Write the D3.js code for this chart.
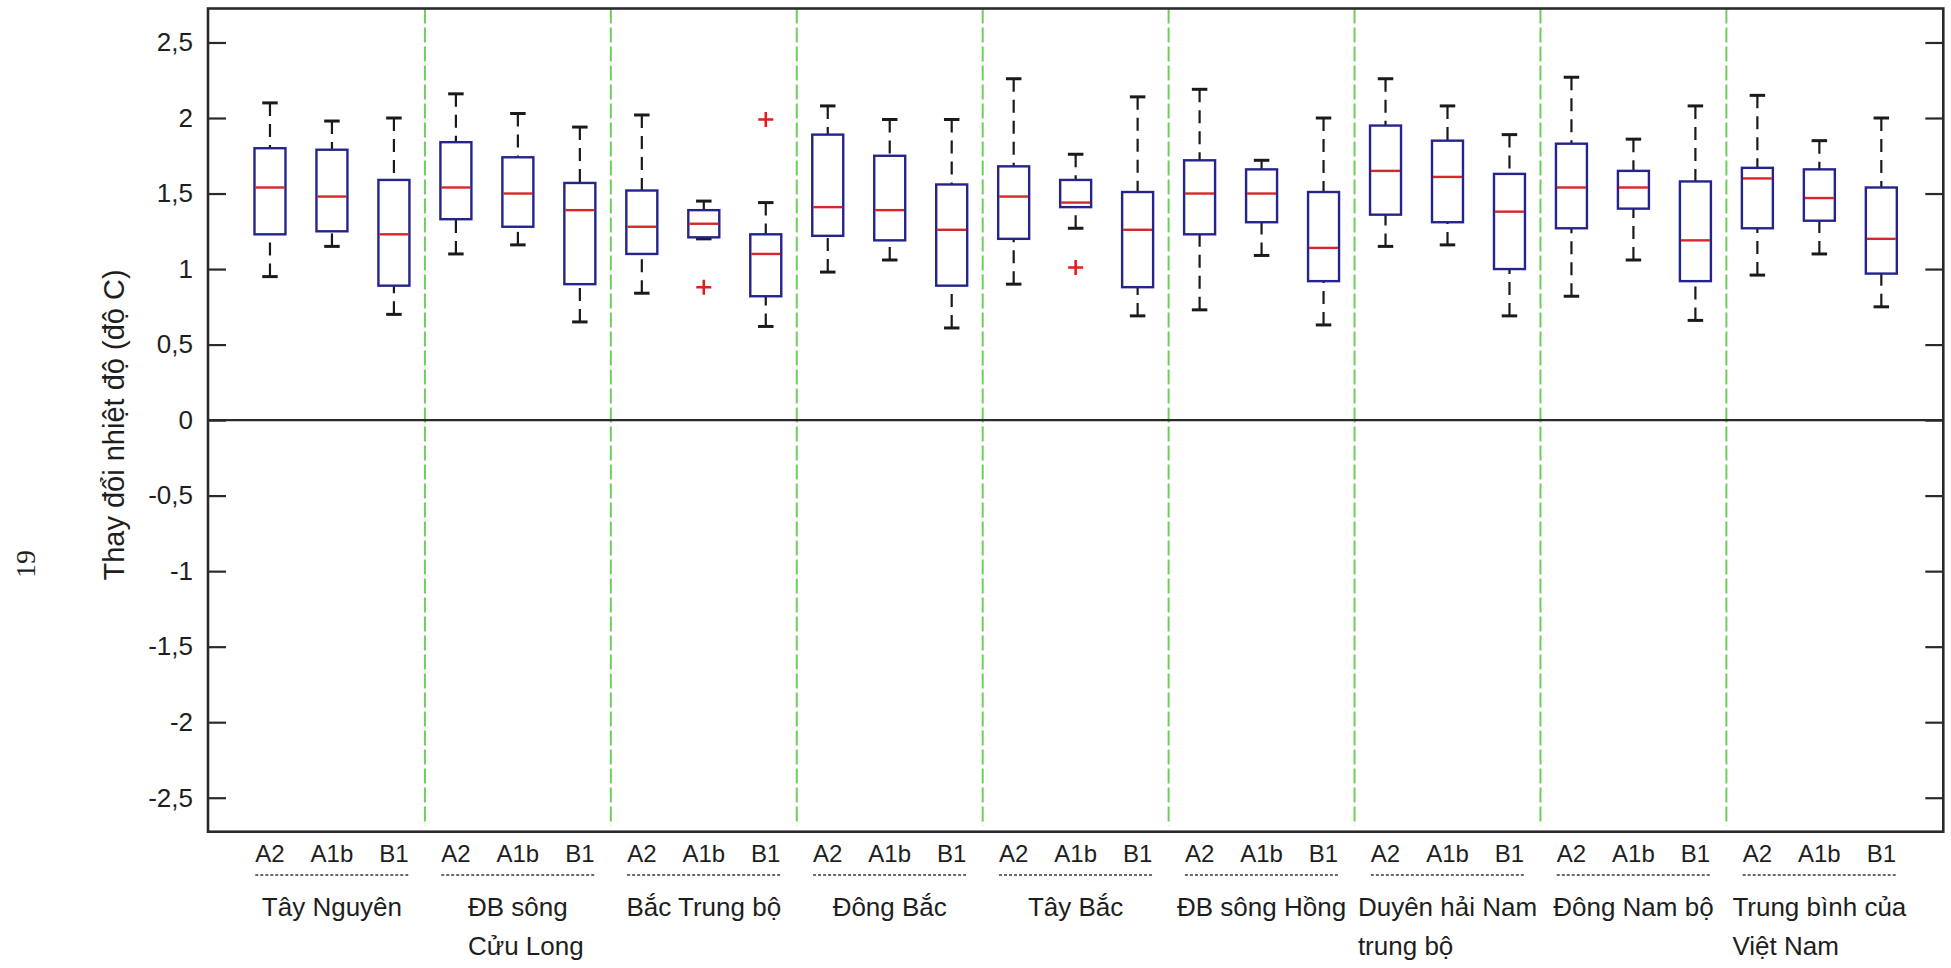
<!DOCTYPE html>
<html>
<head>
<meta charset="utf-8">
<script src="https://cdn.jsdelivr.net/npm/d3@7"></script>
<style>
  html, body { margin: 0; padding: 0; background: #ffffff; }
  svg { display: block; }
  text { font-family: "Liberation Sans", Arial, sans-serif; fill: #1e1e1e; }
</style>
</head>
<body>
<svg id="chart" width="1951" height="968"></svg>
<script>
// Regions (group labels, possibly wrapped onto two lines)
const regionLines = [
  ["Tây Nguyên"],
  ["ĐB sông", "Cửu Long"],
  ["Bắc Trung bộ"],
  ["Đông Bắc"],
  ["Tây Bắc"],
  ["ĐB sông Hồng"],
  ["Duyên hải Nam", "trung bộ"],
  ["Đông Nam bộ"],
  ["Trung bình của", "Việt Nam"]
];
// Emission scenarios inside each region
const scenarios = ["A2", "A1b", "B1"];

// Box statistics, region by region, scenario order A2, A1b, B1 (°C)
const upperWhisker = [
  2.10, 1.98, 2.00,
  2.16, 2.03, 1.94,
  2.02, 1.45, 1.44,
  2.08, 1.99, 1.99,
  2.26, 1.76, 2.14,
  2.19, 1.72, 2.00,
  2.26, 2.08, 1.89,
  2.27, 1.86, 2.08,
  2.15, 1.85, 2.00
];
const upperQuartile = [
  1.80, 1.79, 1.59,
  1.84, 1.74, 1.57,
  1.52, 1.39, 1.23,
  1.89, 1.75, 1.56,
  1.68, 1.59, 1.51,
  1.72, 1.66, 1.51,
  1.95, 1.85, 1.63,
  1.83, 1.65, 1.58,
  1.67, 1.66, 1.54
];
const medians = [
  1.54, 1.48, 1.23,
  1.54, 1.50, 1.39,
  1.28, 1.30, 1.10,
  1.41, 1.39, 1.26,
  1.48, 1.44, 1.26,
  1.50, 1.50, 1.14,
  1.65, 1.61, 1.38,
  1.54, 1.54, 1.19,
  1.60, 1.47, 1.20
];
const lowerQuartile = [
  1.23, 1.25, 0.89,
  1.33, 1.28, 0.90,
  1.10, 1.21, 0.82,
  1.22, 1.19, 0.89,
  1.20, 1.41, 0.88,
  1.23, 1.31, 0.92,
  1.36, 1.31, 1.00,
  1.27, 1.40, 0.92,
  1.27, 1.32, 0.97
];
const lowerWhisker = [
  0.95, 1.15, 0.70,
  1.10, 1.16, 0.65,
  0.84, 1.20, 0.62,
  0.98, 1.06, 0.61,
  0.90, 1.27, 0.69,
  0.73, 1.09, 0.63,
  1.15, 1.16, 0.69,
  0.82, 1.06, 0.66,
  0.96, 1.10, 0.75
];
// Outliers: box index (0-based) and value
const outlierBox = [7, 8, 13];
const outlierValue = [0.88, 1.99, 1.01];

const yTickValues = [-2.5, -2, -1.5, -1, -0.5, 0, 0.5, 1, 1.5, 2, 2.5];
const yTitle = "Thay đổi nhiệt độ (độ C)";
const pageNumber = "19";

// ---------------------------------------------------------------
const svg = d3.select("#chart");
const plot = { left: 208, right: 1943.3, top: 8.5, bottom: 831.7 };

const nBoxes = medians.length;
const x = d3.scaleLinear().domain([0, nBoxes + 1]).range([plot.left, plot.right]);
const y = d3.scaleLinear().domain([-2.725, 2.725]).range([plot.bottom, plot.top]);

const boxHalf = 0.25;   // half box width, x units
const capHalf = 0.125;  // half whisker cap width, x units

const boxes = d3.range(nBoxes).map(i => ({
  pos: i + 1,
  hi: upperWhisker[i], q3: upperQuartile[i], med: medians[i],
  q1: lowerQuartile[i], lo: lowerWhisker[i]
}));

const fmt = d => String(d).replace(".", ",");

// Group separators
const sepG = svg.append("g");
d3.range(1, regionLines.length).forEach(g => {
  sepG.append("line")
    .attr("x1", x(3 * g + 0.5)).attr("x2", x(3 * g + 0.5))
    .attr("y1", plot.top).attr("y2", plot.bottom - 6)
    .attr("stroke", "#6ccf5a").attr("stroke-width", 2)
    .attr("stroke-dasharray", "15,4");
});

// Zero reference line
svg.append("line")
  .attr("x1", plot.left).attr("x2", plot.right)
  .attr("y1", y(0)).attr("y2", y(0))
  .attr("stroke", "#2a2a2a").attr("stroke-width", 2.2);

// Box plots
const bg = svg.append("g");
boxes.forEach(b => {
  const cx = x(b.pos);
  // dashed whiskers, drawn from the cap toward the box
  bg.append("line").attr("x1", cx).attr("x2", cx)
    .attr("y1", y(b.hi)).attr("y2", y(b.q3))
    .attr("stroke", "#1a1a1a").attr("stroke-width", 2.2)
    .attr("stroke-dasharray", "13,8");
  bg.append("line").attr("x1", cx).attr("x2", cx)
    .attr("y1", y(b.lo)).attr("y2", y(b.q1))
    .attr("stroke", "#1a1a1a").attr("stroke-width", 2.2)
    .attr("stroke-dasharray", "13,8");
  // caps
  [b.hi, b.lo].forEach(v => {
    bg.append("line")
      .attr("x1", x(b.pos - capHalf)).attr("x2", x(b.pos + capHalf))
      .attr("y1", y(v)).attr("y2", y(v))
      .attr("stroke", "#1a1a1a").attr("stroke-width", 3);
  });
  // box
  bg.append("rect")
    .attr("x", x(b.pos - boxHalf)).attr("width", x(b.pos + boxHalf) - x(b.pos - boxHalf))
    .attr("y", y(b.q3)).attr("height", y(b.q1) - y(b.q3))
    .attr("fill", "none").attr("stroke", "#24248c").attr("stroke-width", 2.4);
  // median
  bg.append("line")
    .attr("x1", x(b.pos - boxHalf) + 1).attr("x2", x(b.pos + boxHalf) - 1)
    .attr("y1", y(b.med)).attr("y2", y(b.med))
    .attr("stroke", "#d62828").attr("stroke-width", 2.4);
});

// Outliers drawn as red plus signs
outlierBox.forEach((bi, k) => {
  const cx = x(bi + 1), cy = y(outlierValue[k]), r = 7.5;
  bg.append("path")
    .attr("d", `M${cx - r},${cy}H${cx + r}M${cx},${cy - r}V${cy + r}`)
    .attr("stroke", "#e01e1e").attr("stroke-width", 2.6).attr("fill", "none");
});

// Left axis with inward ticks
const yAxisL = svg.append("g")
  .attr("transform", `translate(${plot.left},0)`)
  .call(d3.axisLeft(y).tickValues(yTickValues).tickFormat(fmt).tickSize(-18).tickPadding(15));
yAxisL.select(".domain").remove();
yAxisL.selectAll(".tick line").attr("stroke", "#2a2a2a").attr("stroke-width", 2.2);
yAxisL.selectAll(".tick text")
  .attr("font-size", 26).attr("font-family", "Liberation Sans, Arial, sans-serif")
  .attr("fill", "#1e1e1e");

// Right axis: ticks only
const yAxisR = svg.append("g")
  .attr("transform", `translate(${plot.right},0)`)
  .call(d3.axisRight(y).tickValues(yTickValues).tickFormat("").tickSize(-18));
yAxisR.select(".domain").remove();
yAxisR.selectAll(".tick line").attr("stroke", "#2a2a2a").attr("stroke-width", 2.2);

// Frame
svg.append("rect")
  .attr("x", plot.left).attr("y", plot.top)
  .attr("width", plot.right - plot.left).attr("height", plot.bottom - plot.top)
  .attr("fill", "none").attr("stroke", "#2a2a2a").attr("stroke-width", 2.6);

// Y-axis title
svg.append("text")
  .attr("transform", `translate(124,425) rotate(-90)`)
  .attr("text-anchor", "middle")
  .attr("font-size", 29)
  .text(yTitle);

// Scenario labels under each box, dotted rule under each group, region names
const lab = svg.append("g");
regionLines.forEach((lines, g) => {
  const labels = scenarios.map((s, j) =>
    lab.append("text")
      .attr("x", x(3 * g + j + 1)).attr("y", 862)
      .attr("text-anchor", "middle").attr("font-size", 24)
      .attr("fill", "#2a2a2a")
      .text(s));
  const bl = labels[0].node().getBBox();
  const br = labels[2].node().getBBox();
  lab.append("line")
    .attr("x1", bl.x).attr("x2", br.x + br.width)
    .attr("y1", 875).attr("y2", 875)
    .attr("stroke", "#3a3a3a").attr("stroke-width", 1.6)
    .attr("stroke-dasharray", "3,2");

  const first = lab.append("text")
    .attr("x", x(3 * g + 2)).attr("y", 916)
    .attr("text-anchor", "middle").attr("font-size", 26)
    .text(lines[0]);
  if (lines.length > 1) {
    const fb = first.node().getBBox();
    lab.append("text")
      .attr("x", fb.x).attr("y", 955)
      .attr("text-anchor", "start").attr("font-size", 26)
      .text(lines[1]);
  }
});

// Page number in the margin
svg.append("text")
  .attr("transform", "translate(35,564) rotate(-90)")
  .attr("text-anchor", "middle")
  .attr("font-size", 28)
  .style("font-family", "'Liberation Serif', 'Times New Roman', serif")
  .text(pageNumber);
</script>
</body>
</html>
